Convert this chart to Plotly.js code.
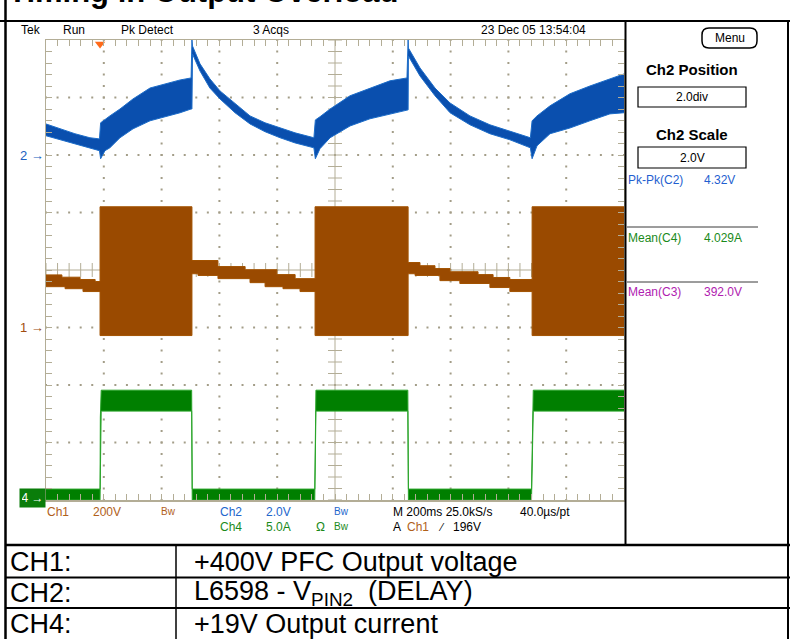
<!DOCTYPE html>
<html>
<head>
<meta charset="utf-8">
<script src="https://cdn.plot.ly/plotly-3.0.1.min.js"></script>
<style>
  html, body { margin: 0; padding: 0; background: #fff; }
  #scope { width: 790px; height: 639px; }
</style>
</head>
<body>
<div id="scope"></div>
<script>
// ---- acquisition settings ----
const timePerDiv = 200;          // ms / div
const ch1Scale = 200;            // V / div
const ch2Scale = 2;              // V / div
const ch4Scale = 5;              // A / div
const ch1Position = -1;          // ground marker, divisions from centre
const ch2Position = 2;
const ch4Position = -4;
const triggerTime = 187;         // ms

// ---- CH2: L6598 pin 2 (delay), peak-detect envelope [ms, V] ----
const ch2Time  = [0, 48, 100, 152, 185, 189, 204, 221, 256, 301, 360, 412, 464, 502, 505, 507, 533, 567, 602, 654,
                  706, 758, 810, 862, 927, 932, 948, 983, 1052, 1121, 1190, 1249, 1253, 1254, 1294, 1346, 1398, 1467,
                  1536, 1605, 1676, 1682, 1699, 1744, 1813, 1882, 1951, 2000];
const ch2Upper = [1.08, 0.91, 0.74, 0.60, 0.56, 1.12, 1.22, 1.36, 1.60, 1.95, 2.33, 2.47, 2.61, 2.68, 4.00, 3.79, 3.17, 2.65, 2.23, 1.78,
                  1.36, 1.12, 0.94, 0.77, 0.60, 1.22, 1.33, 1.60, 2.06, 2.33, 2.58, 2.68, 4.00, 3.72, 3.03, 2.33, 1.81, 1.36,
                  1.05, 0.84, 0.60, 1.19, 1.36, 1.71, 2.13, 2.40, 2.65, 2.82];
const ch2Lower = [0.67, 0.53, 0.39, 0.25, 0.15, -0.13, 0.15, 0.25, 0.60, 0.91, 1.19, 1.33, 1.47, 1.60, 1.60, 3.51, 2.92, 2.33, 1.95, 1.47,
                  1.08, 0.81, 0.60, 0.42, 0.25, -0.13, 0.22, 0.60, 1.01, 1.26, 1.43, 1.57, 1.57, 3.44, 2.75, 2.06, 1.47, 1.05,
                  0.74, 0.53, 0.25, -0.13, 0.32, 0.74, 0.94, 1.19, 1.43, 1.47];

// ---- CH1: PFC output voltage envelope, stepwise [ms, V] ----
const ch1UpperTime = [0, 55, 118, 170, 187, 505, 595, 689, 799, 862, 931, 1253, 1294, 1346, 1398, 1495, 1547, 1605, 1682, 2000];
const ch1Upper     = [183, 175, 167, 160, 420, 233, 212, 201, 184, 170, 420, 226, 215, 205, 194, 184, 174, 167, 420, 420];
const ch1LowerTime = [0, 66, 128, 187, 505, 526, 595, 706, 758, 820, 879, 931, 1253, 1277, 1363, 1432, 1536, 1605, 1682, 2000];
const ch1Lower     = [142, 135, 125, -28, 187, 181, 170, 156, 142, 135, 125, -28, 187, 181, 163, 153, 139, 125, -28, -28];

// ---- CH4: +19V output current envelope [ms, A] ----
const ch4UpperTime = [0, 187, 188, 191, 504, 506, 930, 931, 934, 1252, 1254, 1680, 1682, 1686, 2000];
const ch4Upper     = [0.95, 0.95, 7.2, 9.55, 9.55, 0.95, 0.95, 4.3, 9.55, 9.55, 0.95, 0.95, 4.6, 9.55, 9.55];
const ch4LowerTime = [0, 187, 191, 504, 506, 930, 934, 1252, 1254, 1680, 1686, 2000];
const ch4Lower     = [0, 0, 7.73, 7.73, 0, 0, 7.73, 7.73, 0, 0, 7.73, 7.73];

// ---- readouts ----
const headerLabels = ['Tek', 'Run', 'Pk Detect', '3 Acqs', '23 Dec 05 13:54:04'];
const measNames  = ['Pk-Pk(C2)', 'Mean(C4)', 'Mean(C3)'];
const measValues = ['4.32V', '4.029A', '392.0V'];
const tableChannels = ['CH1:', 'CH2:', 'CH4:'];
const tableSignals  = ['+400V PFC Output voltage', 'L6598 - V<sub>PIN2</sub>  (DELAY)', '+19V Output current'];

// ---------------------------------------------------------------
const L = 46, R = 624, T = 40, B = 500;           // graticule box in page pixels
const px = x => (x - L) / (R - L);
const py = y => (B - y) / (B - T);
const range = (pos, scale) => [(-4 - pos) * scale, (4 - pos) * scale];

const GRAT = '#b3ad96';
const DOT = '#a39d88';
const BLUE = '#0a4fae', BROWN = '#9a4a00', GREEN = '#007f00';
const FONT = 'Liberation Sans, Arial, sans-serif';

// graticule dots (every 1/5 division along each division line)
const dotX = [], dotY = [];
for (let d = -3; d <= 3; d++) {
  if (d === 0) continue;
  for (let k = 0; k <= 50; k++) { dotX.push(k * timePerDiv / 5); dotY.push(d); }
}
for (let d = 1; d <= 9; d++) {
  if (d === 5) continue;
  for (let k = 0; k <= 40; k++) { dotX.push(d * timePerDiv); dotY.push(-4 + k * 0.2); }
}
// centre-line minor ticks
const hTickX = [], hTickY = [], vTickX = [], vTickY = [];
for (let k = 0; k <= 50; k++) { hTickX.push(k * timePerDiv / 5); hTickY.push(0); }
for (let k = 0; k <= 40; k++) { vTickX.push(5 * timePerDiv); vTickY.push(-4 + k * 0.2); }

const traces = [
  { x: dotX, y: dotY, type: 'scatter', mode: 'markers', hoverinfo: 'skip',
    marker: { symbol: 'square', size: 2, color: DOT } },
  { x: hTickX, y: hTickY, type: 'scatter', mode: 'markers', hoverinfo: 'skip',
    marker: { symbol: 'line-ns', size: 10, line: { color: GRAT, width: 1 } } },
  { x: vTickX, y: vTickY, type: 'scatter', mode: 'markers', hoverinfo: 'skip',
    marker: { symbol: 'line-ew', size: 10, line: { color: GRAT, width: 1 } } },
  { x: [triggerTime], y: [3.93], type: 'scatter', mode: 'markers', hoverinfo: 'skip', cliponaxis: false,
    marker: { symbol: 'triangle-down', size: 9, color: '#ff6a1a' } },

  // CH4
  { x: ch4LowerTime, y: ch4Lower, yaxis: 'y4', type: 'scatter', mode: 'lines', hoverinfo: 'skip',
    line: { color: '#2aa52a', width: 1 } },
  { x: ch4UpperTime, y: ch4Upper, yaxis: 'y4', type: 'scatter', mode: 'lines', hoverinfo: 'skip',
    fill: 'tonexty', fillcolor: GREEN, line: { color: '#2aa52a', width: 1 } },

  // CH1
  { x: ch1LowerTime, y: ch1Lower, yaxis: 'y3', type: 'scatter', mode: 'lines', hoverinfo: 'skip',
    line: { color: '#a25200', width: 1, shape: 'hv' } },
  { x: ch1UpperTime, y: ch1Upper, yaxis: 'y3', type: 'scatter', mode: 'lines', hoverinfo: 'skip',
    fill: 'tonexty', fillcolor: BROWN, line: { color: '#a25200', width: 1, shape: 'hv' } },

  // CH2
  { x: ch2Time, y: ch2Lower, yaxis: 'y2', type: 'scatter', mode: 'lines', hoverinfo: 'skip',
    line: { color: '#1c6cc8', width: 1 } },
  { x: ch2Time, y: ch2Upper, yaxis: 'y2', type: 'scatter', mode: 'lines', hoverinfo: 'skip',
    fill: 'tonexty', fillcolor: BLUE, line: { color: '#1c6cc8', width: 1 } }
];

// ---- shapes ----
const shapes = [];
function pline(x0, y0, x1, y1, width, color) {
  shapes.push({ type: 'line', xref: 'paper', yref: 'paper', x0: px(x0), y0: py(y0), x1: px(x1), y1: py(y1),
                line: { color: color || '#000', width: width || 1 } });
}
function prect(x0, y0, x1, y1, width) {
  shapes.push({ type: 'rect', xref: 'paper', yref: 'paper', x0: px(x0), y0: py(y0), x1: px(x1), y1: py(y1),
                line: { color: '#000', width: width || 1 }, fillcolor: 'rgba(0,0,0,0)' });
}
// centre cross of the graticule
shapes.push({ type: 'line', xref: 'x', yref: 'y', x0: 0, x1: 10 * timePerDiv, y0: 0, y1: 0, layer: 'below',
              line: { color: GRAT, width: 1 } });
shapes.push({ type: 'line', xref: 'x', yref: 'y', x0: 5 * timePerDiv, x1: 5 * timePerDiv, y0: -4, y1: 4, layer: 'below',
              line: { color: GRAT, width: 1 } });

// frame of the page
pline(5.5, -5, 5.5, 645, 2.5);
pline(0, 21, 790, 21, 2);
pline(788, 21, 788, 645, 2);
pline(625.5, 21, 625.5, 545, 2);
// table
pline(5, 545, 790, 545, 2.5);
pline(5, 577.5, 790, 577.5, 2);
pline(5, 608, 790, 608, 2);
pline(176, 545, 176, 645, 1.5);
// side panel boxes and separators
prect(638, 87, 746, 107, 1.2);
prect(638, 147, 746, 168, 1.2);
pline(627, 227, 758, 227, 1, '#3a3a3a');
pline(627, 282, 758, 282, 1, '#3a3a3a');
// menu button
(function () {
  const x0 = 702, x1 = 757, y0 = 28, y1 = 48, r = 7;
  const P = (x, y) => px(x) + ',' + py(y);
  const path = 'M' + P(x0 + r, y0) + ' L' + P(x1 - r, y0) + ' Q' + P(x1, y0) + ' ' + P(x1, y0 + r) +
               ' L' + P(x1, y1 - r) + ' Q' + P(x1, y1) + ' ' + P(x1 - r, y1) +
               ' L' + P(x0 + r, y1) + ' Q' + P(x0, y1) + ' ' + P(x0, y1 - r) +
               ' L' + P(x0, y0 + r) + ' Q' + P(x0, y0) + ' ' + P(x0 + r, y0) + ' Z';
  shapes.push({ type: 'path', xref: 'paper', yref: 'paper', path: path, line: { color: '#000', width: 1.5 } });
})();

// ---- text ----
const annotations = [];
function txt(text, x, y, o) {
  o = o || {};
  annotations.push({
    text: text, xref: 'paper', yref: 'paper', x: px(x), y: py(y), showarrow: false,
    xanchor: o.anchor || 'left', yanchor: 'middle', align: 'left', borderpad: 0,
    font: { family: o.family || FONT, size: o.size || 12, color: o.color || '#000', weight: o.weight || 'normal' }
  });
}

// page title (its upper part runs off the page)
txt('Timing in Output Overload', 7, -9, { size: 31, weight: 'bold' });

// scope header
const headerX = [20, 62, 120, 252, 480];
headerLabels.forEach((s, i) => txt(s, headerX[i], 30, { size: 12 }));

// side panel
txt('Menu', 729.5, 38, { anchor: 'center', size: 12 });
txt('Ch2 Position', 692, 70, { anchor: 'center', size: 15, weight: 'bold' });
txt('2.0div', 692, 97, { anchor: 'center', size: 12 });
txt('Ch2 Scale', 692, 134, { anchor: 'center', size: 15, weight: 'bold' });
txt('2.0V', 692, 157.5, { anchor: 'center', size: 12 });
const measColors = ['#1f5fd0', '#1a8a1a', '#b01cb0'];
const measY = [180, 238, 292];
measNames.forEach((s, i) => {
  txt(s, 627, measY[i], { size: 12, color: measColors[i] });
  txt(measValues[i], 703, measY[i], { size: 12, color: measColors[i] });
});

// footer readouts
const cBrown = '#b0601a', cBlue = '#2266cc', cGreen = '#1a8a1a';
txt('Ch1', 46, 512, { color: cBrown });
txt('200V', 92, 512, { color: cBrown });
txt('Bw', 160, 511, { color: cBrown, size: 10 });
txt('Ch2', 219, 512, { color: cBlue });
txt(ch2Scale.toFixed(1) + 'V', 265, 512, { color: cBlue });
txt('Bw', 333, 511, { color: cBlue, size: 10 });
txt('Ch4', 219, 527, { color: cGreen });
txt(ch4Scale.toFixed(1) + 'A', 265, 527, { color: cGreen });
txt('Ω', 315, 527, { color: cGreen });
txt('Bw', 333, 526, { color: cGreen, size: 10 });
txt('M 200ms 25.0kS/s', 392, 512);
txt('40.0µs/pt', 519, 512);
txt('A', 392, 527);
txt('Ch1', 406, 527, { color: cBrown });
txt('⁄', 437, 527, { size: 11 });
txt('196V', 452, 527);

// documentation table
tableChannels.forEach((s, i) => {
  const yc = [562, 593, 624][i];
  txt(s, 9, yc, { size: 27 });
  txt(tableSignals[i], 193, yc, { size: 27 });
});

// channel ground markers
annotations.push({ text: '2 →', xref: 'paper', yref: 'y2', x: px(46), y: 0, xanchor: 'right', yanchor: 'middle',
                   showarrow: false, font: { family: FONT, size: 13, color: '#2060c0' } });
annotations.push({ text: '1 →', xref: 'paper', yref: 'y3', x: px(46), y: 0, xanchor: 'right', yanchor: 'middle',
                   showarrow: false, font: { family: FONT, size: 13, color: '#a04c10' } });
annotations.push({ text: '4 →', xref: 'paper', yref: 'y4', x: px(46), y: 0, xanchor: 'right', yanchor: 'middle',
                   yshift: 2, showarrow: false, bgcolor: '#0a7d0a', borderpad: 2, width: 21,
                   font: { family: FONT, size: 12, color: '#fff' } });

const axisCommon = {
  showgrid: false, zeroline: false, showticklabels: false, fixedrange: true,
  showline: true, linecolor: GRAT, linewidth: 1.5, mirror: 'ticks',
  ticks: 'inside', ticklen: 6, tickwidth: 1, tickcolor: GRAT
};

const layout = {
  width: 790, height: 639,
  margin: { l: L, r: 790 - R, t: T, b: 639 - B, pad: 0 },
  paper_bgcolor: '#fff', plot_bgcolor: '#fff',
  showlegend: false,
  xaxis: Object.assign({}, axisCommon, { range: [0, 10 * timePerDiv], tick0: 0, dtick: timePerDiv / 5 }),
  yaxis: Object.assign({}, axisCommon, { range: [-4, 4], tick0: 0, dtick: 0.2 }),
  yaxis2: { overlaying: 'y', range: range(ch2Position, ch2Scale), visible: false, fixedrange: true },
  yaxis3: { overlaying: 'y', range: range(ch1Position, ch1Scale), visible: false, fixedrange: true },
  yaxis4: { overlaying: 'y', range: range(ch4Position, ch4Scale), visible: false, fixedrange: true },
  shapes: shapes,
  annotations: annotations
};

Plotly.newPlot('scope', traces, layout, { displayModeBar: false, staticPlot: true });
</script>
</body>
</html>
